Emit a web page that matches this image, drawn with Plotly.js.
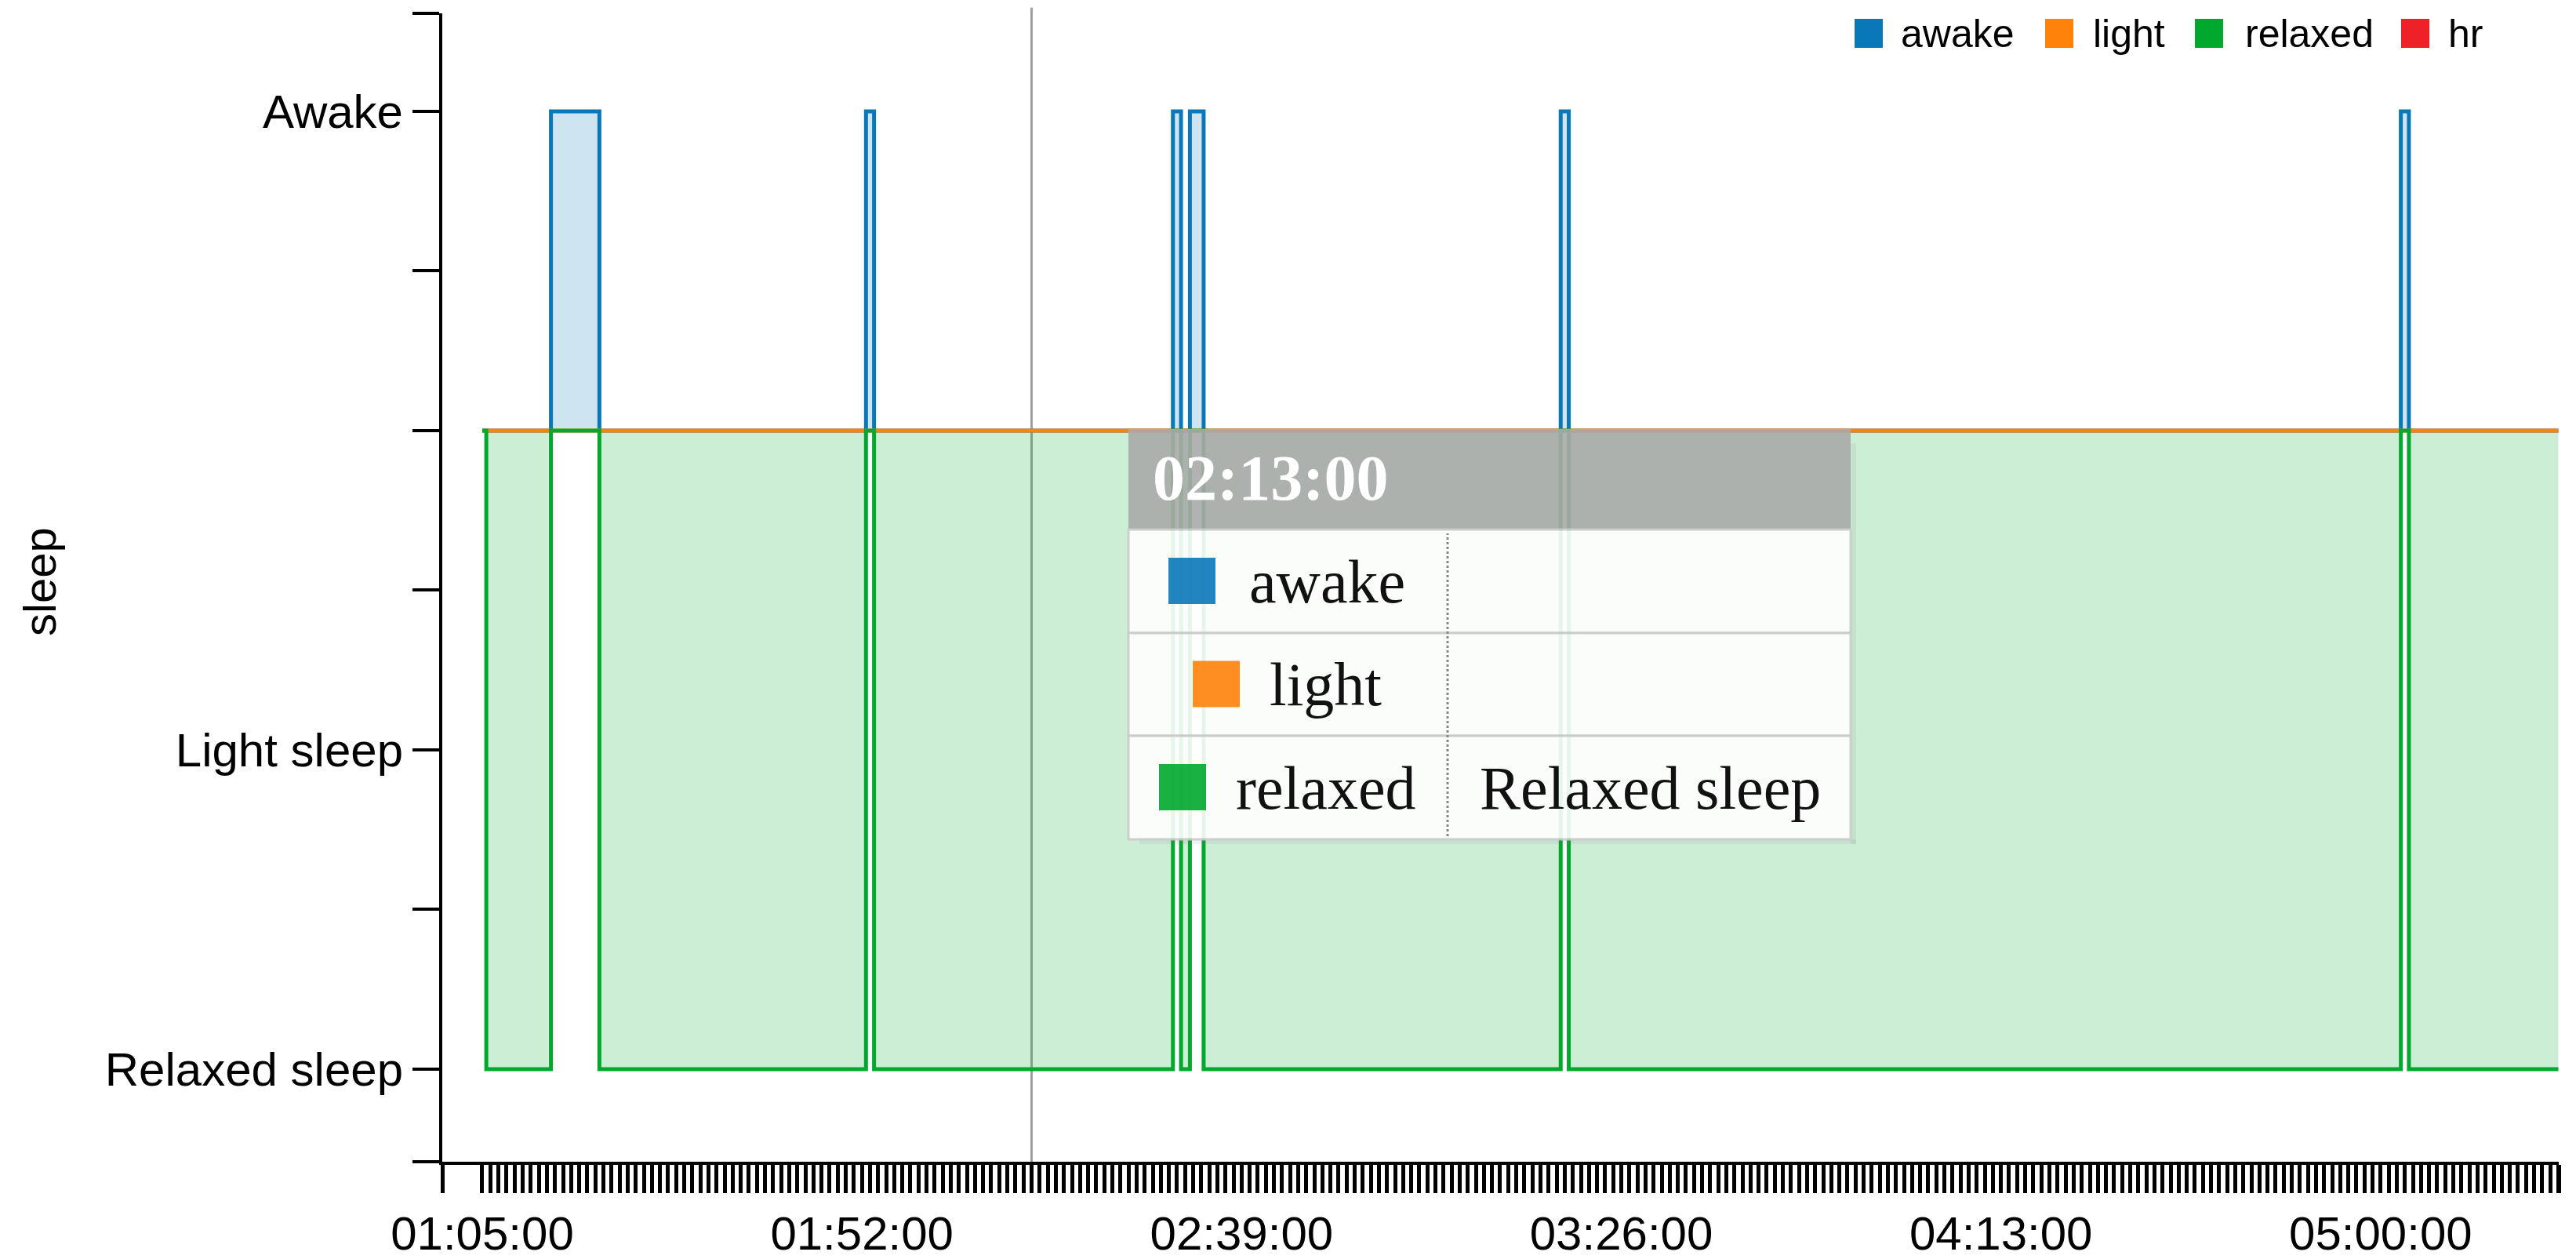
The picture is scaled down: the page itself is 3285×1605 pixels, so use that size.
<!DOCTYPE html>
<html><head><meta charset="utf-8">
<script src="https://cdn.plot.ly/plotly-3.0.1.min.js"></script>
<style>html,body{margin:0;padding:0;background:#fff}#chart{width:3285px;height:1605px}</style>
</head><body><div id="chart"></div><script>
// ---- data ----
const day = '2000-01-01 ';
const stepTimes    = ['01:05:00','01:05:30','01:13:30','01:19:30','01:52:30','01:53:30','02:30:30','02:31:30','02:32:36','02:34:18','03:18:30','03:19:30','05:02:30','05:03:30','05:22:00'];
const awakeLevel   = [0, 0, 2, 0, 2, 0, 2, 0, 2, 0, 2, 0, 2, 0, 0];
const lightLevel   = [0, 0, 0, 0, 0, 0, 0, 0, 0, 0, 0, 0, 0, 0, 0];
const relaxedLevel = [0,-4, 0,-4, 0,-4, 0,-4, 0,-4, 0,-4, 0,-4,-4];
const hrValues = [];
const stageTickVals = [-4, -3, -2, -1, 0, 1, 2];
const stageTickText = ['Relaxed sleep', '', 'Light sleep', '', '', '', 'Awake'];
const xTickLabels = ['01:05:00','01:52:00','02:39:00','03:26:00','04:13:00','05:00:00'];
const seriesNames  = ['awake', 'light', 'relaxed', 'hr'];
const seriesColors = ['#0a78b8', '#ff820a', '#00a82d', '#ee2226'];
const seriesFills  = ['rgba(10,120,184,0.2)', null, 'rgba(0,168,45,0.2)', null];
const hoverTime = '02:13:00';
const tooltipRows = [['awake', ''], ['light', ''], ['relaxed', 'Relaxed sleep']];
const tickStart = '01:05:00', tickEnd = '05:22:00';
const xRange = ['01:00:03', '05:22:03'];
const yRange = [-4.58, 2.614];

// ---- layout helpers (pixel -> paper) ----
const W = 3285, H = 1605, L = 564, R = 3263, T = 17, B = 1481;
const px = p => (p - L) / (R - L);
const py = p => (B - p) / (B - T);

function toSec(s){const a=s.split(':').map(Number);return a[0]*3600+a[1]*60+a[2];}
function fmt(sec){const h=Math.floor(sec/3600),m=Math.floor(sec%3600/60),s=sec%60;const z=n=>String(n).padStart(2,'0');return z(h)+':'+z(m)+':'+z(s);}
const xTickVals = [day + xRange[0]], xTickText = [''];
for (let s = toSec(tickStart); s <= toSec(tickEnd); s += 60) {
  const lab = fmt(s);
  xTickVals.push(day + lab);
  xTickText.push(xTickLabels.includes(lab) ? lab : '');
}
xTickVals.push(day + xRange[1]); xTickText.push('');

const levels = [awakeLevel, lightLevel, relaxedLevel];
const xs = stepTimes.map(t => day + t);
const traces = [];
// area layer (below all lines, as in the original)
levels.forEach((lv, i) => {
  if (!seriesFills[i]) return;
  traces.push({type:'scatter', mode:'lines', name: seriesNames[i] + ' area', x: xs, y: lv,
    line:{shape:'hv', width:0, color: seriesColors[i]}, fill:'tozeroy', fillcolor: seriesFills[i],
    hoverinfo:'skip', showlegend:false});
});
// line layer
levels.forEach((lv, i) => {
  traces.push({type:'scatter', mode:'lines', name: seriesNames[i], x: xs, y: lv,
    line:{shape:'hv', color: seriesColors[i], width: 5}, hoverinfo:'skip', showlegend:false});
});
traces.push({type:'scatter', mode:'lines', name:'hr', x: hrValues.map((v,i)=>i), y: hrValues,
  line:{color: seriesColors[3]}, showlegend:false, hoverinfo:'skip'});

const sans = 'Liberation Sans, Arial, Helvetica, sans-serif';
const serif = 'Liberation Serif, Times New Roman, serif';

const shapes = [], annotations = [];
shapes.push({type:'line', xref:'x', yref:'paper', x0: day+hoverTime, x1: day+hoverTime, y0:0, y1:1.005,
  line:{color:'#a0a0a0', width:3}, layer:'below'});

// legend
const legSw = [2365, 2608, 2799, 3062], legTx = [2422, 2667, 2861, 3120];
seriesNames.forEach((n, i) => {
  shapes.push({type:'rect', xref:'paper', yref:'paper', x0:px(legSw[i]), x1:px(legSw[i]+36), y0:py(61), y1:py(24),
    fillcolor: seriesColors[i], line:{width:0}});
  annotations.push({xref:'paper', yref:'paper', x:px(legTx[i]), y:py(43), xanchor:'left', yanchor:'middle',
    text:n, showarrow:false, font:{family:sans, size:50, color:'#000'}});
});

// y axis title
annotations.push({xref:'paper', yref:'paper', x:px(50), y:py(742), xanchor:'center', yanchor:'middle',
  text:'sleep', textangle:-90, showarrow:false, font:{family:sans, size:58, color:'#000'}});

// tooltip
const tx0 = 1439, tx1 = 2360, divX = 1846;
const rowTops = [675, 807, 938, 1070];
shapes.push({type:'rect', xref:'paper', yref:'paper', x0:px(tx1), x1:px(tx1+7), y0:py(1076), y1:py(565),
  fillcolor:'rgba(120,120,120,0.10)', line:{width:0}});
shapes.push({type:'rect', xref:'paper', yref:'paper', x0:px(tx0+14), x1:px(tx1+7), y0:py(1076), y1:py(1070),
  fillcolor:'rgba(120,120,120,0.10)', line:{width:0}});
shapes.push({type:'rect', xref:'paper', yref:'paper', x0:px(tx0), x1:px(tx1), y0:py(675), y1:py(547),
  fillcolor:'#aaaaaa', opacity:0.9, line:{width:0}});
for (let r = 0; r < 3; r++) {
  shapes.push({type:'rect', xref:'paper', yref:'paper', x0:px(tx0), x1:px(tx1), y0:py(rowTops[r+1]), y1:py(rowTops[r]),
    fillcolor:'#ffffff', opacity:0.9, line:{color:'#cccccc', width:3}});
}
shapes.push({type:'line', xref:'paper', yref:'paper', x0:px(divX), x1:px(divX), y0:py(1066), y1:py(680),
  line:{color:'#888888', width:3, dash:'dot'}});
annotations.push({xref:'paper', yref:'paper', x:px(1468), y:py(609), xanchor:'left', yanchor:'middle',
  text:'<b>'+hoverTime+'</b>', showarrow:false, font:{family:serif, size:82, color:'#ffffff'}});
const swX = [1490, 1521, 1478], nameX = [1591, 1617, 1574];
tooltipRows.forEach((row, r) => {
  const cy = (rowTops[r] + rowTops[r+1]) / 2;
  const ci = seriesNames.indexOf(row[0]);
  shapes.push({type:'rect', xref:'paper', yref:'paper', x0:px(swX[r]), x1:px(swX[r]+60), y0:py(cy+29), y1:py(cy-30),
    fillcolor: seriesColors[ci], opacity:0.9, line:{width:0}});
  annotations.push({xref:'paper', yref:'paper', x:px(nameX[r]), y:py(cy), xanchor:'left', yanchor:'middle',
    text:row[0], showarrow:false, font:{family:serif, size:78, color:'#111'}});
  if (row[1]) annotations.push({xref:'paper', yref:'paper', x:px(2104), y:py(cy), xanchor:'center', yanchor:'middle',
    text:row[1], showarrow:false, font:{family:serif, size:78, color:'#111'}});
});

const layout = {
  width: W, height: H,
  margin: {l: L, r: W - R, t: T, b: H - B, pad: 0},
  paper_bgcolor: '#fff', plot_bgcolor: '#fff',
  showlegend: false,
  xaxis: {type:'date', range: xRange.map(t => day + t), tickmode:'array', tickvals: xTickVals, ticktext: xTickText,
    ticks:'outside', ticklen:36, tickwidth:5, tickcolor:'#000', showline:true, linecolor:'#000', linewidth:4,
    showgrid:false, zeroline:false, tickfont:{family:sans, size:60, color:'#000'}, fixedrange:true},
  yaxis: {range: yRange, tickmode:'array', tickvals: [yRange[0]].concat(stageTickVals, [yRange[1]]),
    ticktext: [''].concat(stageTickText, ['']),
    ticks:'outside', ticklen:34, tickwidth:4, tickcolor:'#000', showline:true, linecolor:'#000', linewidth:4,
    showgrid:false, zeroline:false, tickfont:{family:sans, size:60, color:'#000'}, fixedrange:true},
  shapes, annotations
};
Plotly.newPlot('chart', traces, layout, {staticPlot:true, displayModeBar:false});
</script></body></html>
